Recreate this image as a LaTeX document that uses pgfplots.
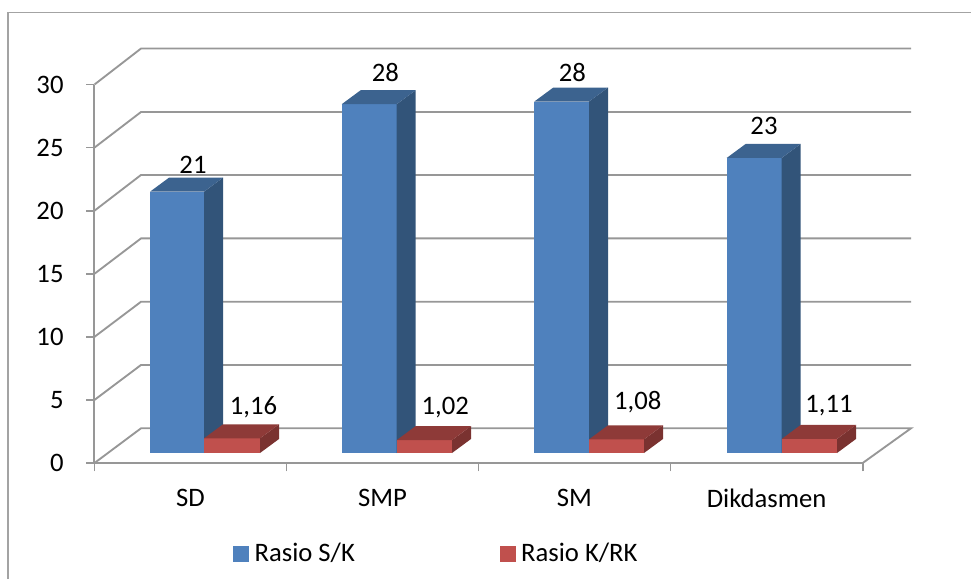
\documentclass[border=0pt]{standalone}
\usepackage{fontspec}
\setmainfont{Carlito}
\usepackage{pgfplots}
\usepackage{pgfplotstable}
\pgfplotsset{compat=1.18}

\definecolor{gridgray}{HTML}{979797}
\definecolor{framegray}{HTML}{A3A3A3}
\definecolor{blueFront}{HTML}{4F81BD}
\definecolor{blueSide}{HTML}{325479}
\definecolor{blueTop}{HTML}{3C638F}
\definecolor{redFront}{HTML}{C0504D}
\definecolor{redSide}{HTML}{7A3230}
\definecolor{redTop}{HTML}{8E3A38}

\newcommand{\chartfont}{\fontsize{20}{24}\selectfont}

% Value table: x position of the label, value, label lift in value units
\pgfplotstableread{
x      v      lift
193.0  20.67  1.46
385.3  27.59  1.80
572.3  27.80  1.59
764.0  23.34  1.88
}\ratioSK
\pgfplotstableread{
x      v      lift
253.5  1.16   1.90
445.3  1.02   1.99
637.7  1.08   2.37
829.0  1.11   2.11
}\ratioKRK

% One box: left, right, value, then front, side and top colours
\newcommand{\barbox}[6]{%
  \pgfmathsetmacro{\xb}{#2+19}%
  \pgfmathsetmacro{\xc}{#1+19}%
  \pgfmathsetmacro{\yb}{#3+1.11}%
  \edef\boxfaces{%
    \noexpand\addplot[fill=#4,draw=none] coordinates {(#1,0) (#2,0) (#2,#3) (#1,#3)} -- cycle;
    \noexpand\addplot[fill=#5,draw=none] coordinates {(#2,0) (\xb,1.11) (\xb,\yb) (#2,#3)} -- cycle;
    \noexpand\addplot[fill=#6,draw=none] coordinates {(#1,#3) (#2,#3) (\xb,\yb) (\xc,\yb)} -- cycle;
  }\boxfaces}

\begin{document}
\begin{tikzpicture}[every node/.style={font=\chartfont}]
  \path[use as bounding box] (-70.875pt,-87pt) rectangle (657.375pt,347.25pt);
  % chart frame
  \draw[framegray,line width=1.1pt] (-64.875pt,-87pt) -- (-64.875pt,338pt) -- (657.375pt,338pt);

  % walls, floor and value axis
  \begin{axis}[
    at={(0pt,0pt)}, anchor=south west,
    scale only axis, width=576.15pt, height=283.875pt,
    xmin=94.5, xmax=862.7, ymin=0, ymax=30,
    clip=false,
    axis x line*=bottom, axis y line*=left,
    axis line style={gridgray,line width=1.5pt},
    every tick/.style={gridgray,line width=1.3pt},
    tick align=outside, major tick length=6.2pt,
    ytick={0,5,...,30},
    xtick={94.5,286.5,478.5,670.5,862.7},
    xticklabels={},
    extra x ticks={190.5,382.5,574.5,766.6},
    extra x tick labels={SD,SMP,SM,Dikdasmen},
    extra x tick style={major tick length=0pt, xticklabel style={yshift=-16pt}},
    tick label style={font=\chartfont,black},
    yticklabel style={/pgf/number format/assume math mode=true},
    yticklabel shift=13.5pt,
    legend columns=2,
    legend cell align=left,
    legend style={
      at={(axis cs:233,-7.19)}, anchor=west, draw=none, fill=none,
      inner sep=0pt, outer sep=0pt, font=\chartfont,
      /tikz/every even column/.append style={column sep=106.5pt},
    },
    legend image code/.code={\fill[#1] (0pt,-5.6pt) rectangle (11.2pt,5.6pt); \path (13.8pt,0pt);},
  ]
    \addplot[forget plot,gridgray,line width=1.4pt] coordinates {(94.5,30) (141,32.85) (911,32.85)};
    \addplot[forget plot,gridgray,line width=1.4pt] coordinates {(94.5,25) (141,27.82) (911,27.82)};
    \addplot[forget plot,gridgray,line width=1.4pt] coordinates {(94.5,20) (141,22.83) (911,22.83)};
    \addplot[forget plot,gridgray,line width=1.4pt] coordinates {(94.5,15) (141,17.80) (911,17.80)};
    \addplot[forget plot,gridgray,line width=1.4pt] coordinates {(94.5,10) (141,12.78) (911,12.78)};
    \addplot[forget plot,gridgray,line width=1.4pt] coordinates {(94.5,5) (141,7.77) (911,7.77)};
    \addplot[forget plot,gridgray,line width=1.4pt] coordinates {(94.5,0) (141,2.75) (911,2.75) (862.7,0)};
    \addlegendimage{blueFront}
    \addlegendentry{Rasio S/K}
    \addlegendimage{redFront}
    \addlegendentry{Rasio K/RK}
  \end{axis}

  % bars standing on the middle of the floor
  \begin{axis}[
    at={(0pt,0pt)}, anchor=south west,
    scale only axis, width=576.15pt, height=283.875pt,
    xmin=94.5, xmax=862.7, ymin=-0.79, ymax=29.15,
    clip=false, hide axis,
  ]
    \barbox{150}{204}{20.67}{blueFront}{blueSide}{blueTop}
    \barbox{204}{260}{1.16}{redFront}{redSide}{redTop}
    \barbox{341.7}{396.7}{27.59}{blueFront}{blueSide}{blueTop}
    \barbox{396.7}{452}{1.02}{redFront}{redSide}{redTop}
    \barbox{534.3}{589}{27.80}{blueFront}{blueSide}{blueTop}
    \barbox{589}{644}{1.08}{redFront}{redSide}{redTop}
    \barbox{726.7}{781.7}{23.34}{blueFront}{blueSide}{blueTop}
    \barbox{781.7}{837}{1.11}{redFront}{redSide}{redTop}

    \addplot[draw=none, mark=none, point meta=explicit,
      nodes near coords={\pgfmathprintnumber[fixed,precision=0,assume math mode=true]{\pgfplotspointmeta}},
      nodes near coords style={anchor=base,font=\chartfont,black}]
      table[x=x,y expr=\thisrow{v}+\thisrow{lift},meta=v] {\ratioSK};
    \addplot[draw=none, mark=none, point meta=explicit,
      nodes near coords={\pgfmathprintnumber[fixed,fixed zerofill,precision=2,use comma,assume math mode=true]{\pgfplotspointmeta}},
      nodes near coords style={anchor=base,font=\chartfont,black}]
      table[x=x,y expr=\thisrow{v}+\thisrow{lift},meta=v] {\ratioKRK};
  \end{axis}
\end{tikzpicture}
\end{document}
